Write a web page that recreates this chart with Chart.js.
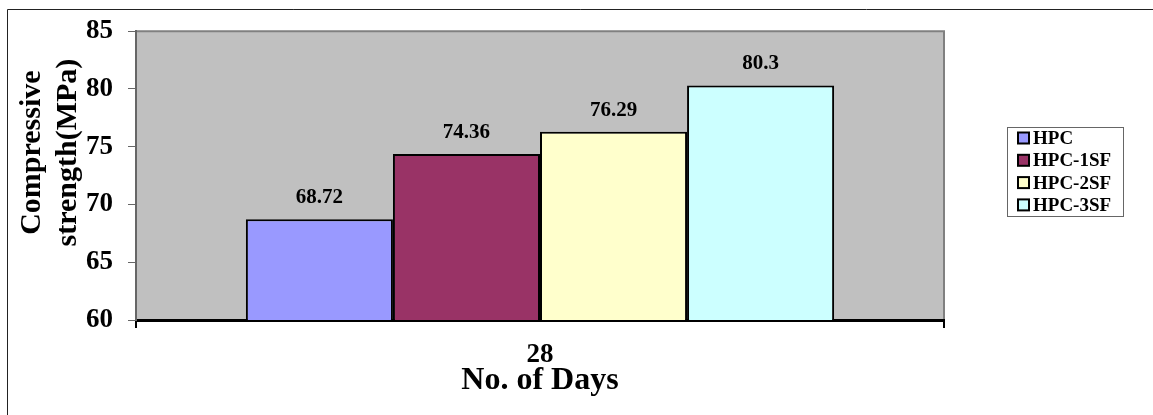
<!DOCTYPE html>
<html>
<head>
<meta charset="utf-8">
<script src="https://cdn.jsdelivr.net/npm/chart.js@4.4.1/dist/chart.umd.min.js"></script>
<style>
  html, body { margin: 0; padding: 0; background: #fff; }
  #wrap { width: 1153px; height: 415px; position: relative; }
</style>
</head>
<body>
<div id="wrap"><canvas id="c" width="1153" height="415"></canvas></div>
<script>
// Compressive strength at 28 days for each mix
const categories = ['28'];
const seriesNames = ['HPC', 'HPC-1SF', 'HPC-2SF', 'HPC-3SF'];
const hpc = [68.72];
const hpc1sf = [74.36];
const hpc2sf = [76.29];
const hpc3sf = [80.3];
const seriesColors = ['#9999FF', '#993366', '#FFFFCC', '#CCFFFF'];
const yTitleLines = ['Compressive', 'strength(MPa)'];
const xTitle = 'No. of Days';
const yMin = 60, yMax = 85, yStep = 5;

const FONT = "'Liberation Serif', 'Times New Roman', serif";
const seriesValues = [hpc, hpc1sf, hpc2sf, hpc3sf];

// Page frame, plot background and plot border
const backdrop = {
  id: 'backdrop',
  beforeDraw(chart) {
    const { ctx, chartArea: a } = chart;
    ctx.save();
    ctx.fillStyle = '#fff';
    ctx.fillRect(0, 0, chart.width, chart.height);
    ctx.strokeStyle = '#222';
    ctx.lineWidth = 1;
    ctx.beginPath();
    ctx.moveTo(7.5, chart.height);
    ctx.lineTo(7.5, 9.5);
    ctx.lineTo(chart.width, 9.5);
    ctx.stroke();
    ctx.fillStyle = '#C0C0C0';
    ctx.fillRect(a.left, a.top, a.right - a.left, a.bottom - a.top);
    ctx.strokeStyle = '#808080';
    ctx.lineWidth = 2;
    ctx.beginPath();
    ctx.moveTo(a.left, a.top);
    ctx.lineTo(a.right, a.top);
    ctx.lineTo(a.right, a.bottom);
    ctx.stroke();
    ctx.restore();
  }
};

// Two-line rotated title for the value axis
const yTitle = {
  id: 'yTitle',
  afterDraw(chart) {
    const { ctx, chartArea: a } = chart;
    const cy = (a.top + a.bottom) / 2 - 23;
    ctx.save();
    ctx.font = 'bold 30px ' + FONT;
    ctx.fillStyle = '#000';
    ctx.textAlign = 'center';
    ctx.textBaseline = 'middle';
    yTitleLines.forEach((line, i) => {
      ctx.save();
      ctx.translate(32 + i * 36, cy);
      ctx.rotate(-Math.PI / 2);
      ctx.fillText(line, 0, 0);
      ctx.restore();
    });
    ctx.restore();
  }
};

// Value printed above each bar
const valueLabels = {
  id: 'valueLabels',
  afterDatasetsDraw(chart) {
    const { ctx } = chart;
    ctx.save();
    ctx.font = 'bold 21px ' + FONT;
    ctx.fillStyle = '#000';
    ctx.textAlign = 'center';
    ctx.textBaseline = 'alphabetic';
    chart.data.datasets.forEach((ds, i) => {
      chart.getDatasetMeta(i).data.forEach((bar, j) => {
        ctx.fillText(String(ds.data[j]), bar.x, bar.y - 16);
      });
    });
    ctx.restore();
  }
};

// Boxed legend to the right of the plot
const boxLegend = {
  id: 'boxLegend',
  afterDraw(chart) {
    const { ctx, chartArea: a } = chart;
    const left = a.right + 63, top = 127, w = 116, h = 89;
    ctx.save();
    ctx.fillStyle = '#fff';
    ctx.fillRect(left, top, w, h);
    ctx.strokeStyle = '#666';
    ctx.lineWidth = 1;
    ctx.strokeRect(left + 0.5, top + 0.5, w, h);
    ctx.font = 'bold 19px ' + FONT;
    ctx.textAlign = 'left';
    ctx.textBaseline = 'middle';
    chart.data.datasets.forEach((ds, i) => {
      const cy = top + 11 + i * 22.3;
      ctx.fillStyle = ds.backgroundColor;
      ctx.fillRect(left + 11, cy - 5.5, 11, 11);
      ctx.strokeStyle = '#000';
      ctx.lineWidth = 2;
      ctx.strokeRect(left + 11, cy - 5.5, 11, 11);
      ctx.fillStyle = '#000';
      ctx.fillText(ds.label, left + 26, cy + 1);
    });
    ctx.restore();
  }
};

new Chart(document.getElementById('c'), {
  type: 'bar',
  data: {
    labels: categories,
    datasets: seriesNames.map((name, i) => ({
      label: name,
      data: seriesValues[i],
      backgroundColor: seriesColors[i],
      borderColor: '#000',
      borderWidth: 2,
      borderSkipped: 'start',
      categoryPercentage: 0.728,
      barPercentage: 1
    }))
  },
  options: {
    responsive: false,
    devicePixelRatio: 1,
    animation: false,
    layout: { padding: { top: 31, right: 209, bottom: 0, left: 0 } },
    plugins: {
      legend: { display: false },
      tooltip: { enabled: false }
    },
    scales: {
      x: {
        offset: true,
        grid: { display: true, drawOnChartArea: false, offset: true, tickLength: 8, color: '#000', lineWidth: 2 },
        border: { display: true, color: '#000', width: 3 },
        ticks: { color: '#000', padding: 11, font: { family: FONT, size: 27, weight: 'bold' } },
        title: {
          display: true,
          text: xTitle,
          color: '#000',
          font: { family: FONT, size: 32, weight: 'bold', lineHeight: 1.2 },
          padding: { top: 0, bottom: 15 }
        },
        afterFit(s) { s.height = 95; }
      },
      y: {
        min: yMin,
        max: yMax,
        ticks: { stepSize: yStep, color: '#000', padding: 15, font: { family: FONT, size: 27, weight: 'bold' } },
        grid: { display: true, drawOnChartArea: false, tickLength: 8, color: '#666', lineWidth: 1 },
        border: { display: true, color: '#666', width: 2 },
        title: { display: false },
        afterFit(s) { s.width = 136; }
      }
    }
  },
  plugins: [backdrop, valueLabels, yTitle, boxLegend]
});
</script>
</body>
</html>
